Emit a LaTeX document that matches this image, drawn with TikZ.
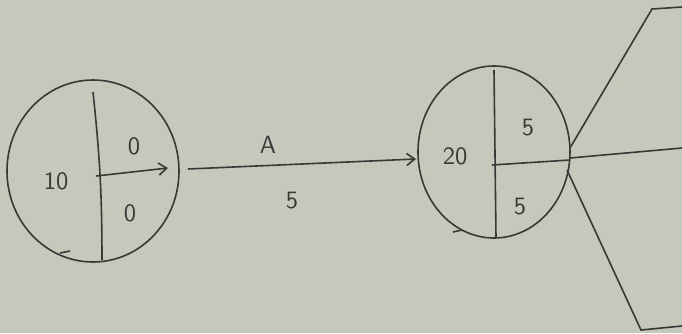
\documentclass[tikz,border=0pt]{standalone}
\usetikzlibrary{shapes.geometric,arrows.meta}
\definecolor{paper}{RGB}{198,200,187}
\definecolor{ink}{RGB}{55,57,55}
\begin{document}
\begin{tikzpicture}[x=0.5pt,y=-0.5pt,
  line/.style={draw=ink,line width=0.8pt},
  evt/.style={ellipse,draw=ink,line width=0.8pt,inner sep=0pt},
  lbl/.style={text=ink,font=\sffamily\fontsize{12.5}{13}\selectfont,inner sep=1pt},
  arr/.style={line,-{Straight Barb[length=4pt,width=6pt]}}]
\fill[paper] (0,0) rectangle (682,333);
\useasboundingbox (0,0) rectangle (682,333);
% left event
\node[evt,minimum width=86pt,minimum height=91pt] (e1) at (93,171) {};
\coordinate (e1t) at (93,92);
\coordinate (e1b) at (102,260);
\coordinate (e1c) at (96,176);
\coordinate (e1r) at (168,168);
\draw[line] (e1t) to[bend left=3] (e1b);
\draw[arr] (e1c) -- (e1r);
\coordinate (h1a) at (70,251);
\coordinate (h1b) at (60,253);
\draw[line] (h1a) -- (h1b);
\node[lbl] (t10) at (56,181) {10};
\node[lbl] (t0a) at (134,146) {0};
\node[lbl] (t0b) at (130,213) {0};
% right event
\node[evt,minimum width=76pt,minimum height=86pt] (e2) at (494,152) {};
\coordinate (e2t) at (494,70);
\coordinate (e2b) at (496,237);
\coordinate (e2c) at (492,165);
\coordinate (e2r) at (570,160);
\draw[line] (e2t) -- (e2b);
\draw[line] (e2c) -- (e2r);
\coordinate (h2a) at (462,230);
\coordinate (h2b) at (453,232);
\draw[line] (h2a) -- (h2b);
\node[lbl] (t20) at (455,156) {20};
\node[lbl] (t5a) at (528,128) {5};
\node[lbl] (t5b) at (520,207) {5};
% activity A
\coordinate (a1) at (188,169);
\coordinate (a2) at (416,159);
\draw[arr] (a1) -- (a2);
\node[lbl] (tA) at (268,145) {A};
\node[lbl] (tAd) at (292,201) {5};
% outgoing
\coordinate (o1) at (570,148);
\coordinate (o1m) at (652,9);
\coordinate (o1e) at (682,7);
\draw[line] (o1) -- (o1m) -- (o1e);
\coordinate (o2) at (570,158);
\coordinate (o2e) at (682,148);
\draw[line] (o2) -- (o2e);
\coordinate (o3) at (567,170);
\coordinate (o3m) at (641,330);
\coordinate (o3e) at (682,326);
\draw[line] (o3) -- (o3m) -- (o3e);
\end{tikzpicture}
\end{document}
